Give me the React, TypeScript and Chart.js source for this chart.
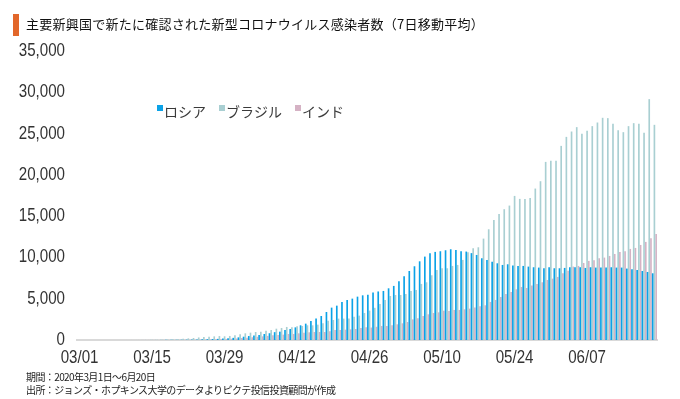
import React, { useEffect, useRef } from "react";
import { Chart, registerables } from "chart.js";

Chart.register(...registerables);

// Categories: every day from 03/01 to 06/20 (2020)
const MONTH_DAYS: [number, number][] = [[3, 31], [4, 30], [5, 31], [6, 20]];
const CATEGORIES: string[] = MONTH_DAYS.flatMap(([m, n]) =>
  Array.from({ length: n }, (_, i) => `${String(m).padStart(2, "0")}/${String(i + 1).padStart(2, "0")}`)
);

const TICK_LABELS = ["03/01", "03/15", "03/29", "04/12", "04/26", "05/10", "05/24", "06/07"];
const Y_TICKS = [0, 5000, 10000, 15000, 20000, 25000, 30000, 35000];

const SERIES_NAMES = ["ロシア", "ブラジル", "インド"];

const RUSSIA = [
  0, 0, 0, 0, 0, 0, 0, 0, 0, 0, 1,
  2, 3, 5, 7, 9, 12, 17, 22, 28, 36, 45, 55, 65, 80, 100, 120, 140, 170, 210, 260, 320, 400, 480, 560, 620, 730, 820,
  950, 1010, 1210, 1330, 1530, 1780, 1980, 2300, 2590, 2910, 3390, 3920, 4160, 4600, 4850, 5010, 5250, 5410, 5490,
  5750, 5880, 5940, 6260, 6550, 7110, 7720, 8360, 8930, 9530, 10100, 10500, 10670, 10750, 10870, 10990, 10910,
  10750, 10710, 10520, 10300, 9900, 9700, 9490, 9290, 9090, 9170, 9010, 8970, 8970, 8890, 8810, 8770, 8690, 8810,
  8690, 8690, 8730, 8810, 8810, 8810, 8730, 8810, 8770, 8770, 8770, 8810, 8770, 8770, 8650, 8570, 8480, 8360, 8240, 8080,
];

const BRAZIL = [
  0, 0, 0, 0, 0, 0, 1, 2, 3, 4, 5, 7, 10, 15, 20, 30, 45, 70,
  110, 130, 160, 200, 240, 310, 360, 400, 440, 480, 450, 490, 570, 690, 810, 890, 970, 1010, 1130, 1210,
  1370, 1450, 1580, 1540, 1660, 1700, 1780, 1780, 1860, 2020, 2340, 2420, 2590, 2590, 2590, 2830, 2950, 3270,
  3560, 3900, 4360, 4850, 5330, 5450, 5450, 5580, 5940, 6060, 6790, 6990, 7840, 8480, 8690, 8690, 8970, 9090,
  9700, 10630, 11110, 11230, 12280, 13410, 14540, 15270, 15840, 16280, 17450, 17090, 17090, 17210, 18340, 19230,
  21570, 21700, 21700, 23510, 24600, 25250, 25780, 24970, 25330, 25900, 26340, 26910, 26870, 26180, 25410, 25170,
  25900, 26260, 26180, 25090, 29170, 26060,
];

const INDIA = [
  0, 0, 0, 0, 0, 0, 1, 2, 3, 4, 5, 6, 8, 9, 10, 12, 14, 16, 20, 25,
  30, 35, 40, 50, 65, 75, 90, 110, 130, 150, 180, 230, 280, 330, 390, 440, 500,
  570, 610, 650, 730, 730, 810, 890, 930, 970, 970, 970, 1050, 1210, 1210, 1250, 1290, 1330, 1450, 1530, 1510,
  1600, 1700, 1700, 1780, 1900, 2020, 2180, 2500, 2630, 2910, 3110, 3270, 3350, 3550, 3520, 3640, 3640, 3720,
  3800, 3940, 4100, 4200, 4610, 4850, 5210, 5580, 5820, 6140, 6420, 6300, 6590, 6790, 6990, 7270, 7430, 7640,
  8080, 8400, 8890, 8970, 9330, 9580, 9660, 9900, 9980, 10180, 10420, 10670, 10750, 11030, 11150, 11510, 11880,
  12320, 12850,
];

const COLORS = ["#0BA2E7", "#A9CFD2", "#D5B2C4"];

const NUM_FONT = "'Liberation Sans', Arial, sans-serif";
const JP_FONT = "'Noto Sans CJK JP', sans-serif";

// Condensed (horizontally scaled) axis labels, like the narrow face of the original
const tickPlugin = {
  id: "condensedTicks",
  afterDraw(chart: any) {
    const ctx = chart.ctx as CanvasRenderingContext2D;
    const sx = 0.84;
    ctx.save();
    ctx.font = `18px ${NUM_FONT}`;
    ctx.fillStyle = "#333333";
    ctx.textBaseline = "middle";
    const ys = chart.scales.y;
    Y_TICKS.forEach((v) => {
      const y = ys.getPixelForValue(v);
      ctx.save();
      ctx.translate(65, y);
      ctx.scale(sx, 1);
      ctx.textAlign = "right";
      ctx.fillText(v.toLocaleString("en-US"), 0, 0);
      ctx.restore();
    });
    const xs = chart.scales.x;
    TICK_LABELS.forEach((lbl) => {
      const x = xs.getPixelForValue(CATEGORIES.indexOf(lbl));
      ctx.save();
      ctx.translate(x, 358);
      ctx.scale(sx, 1);
      ctx.textAlign = "center";
      ctx.fillText(lbl, 0, 0);
      ctx.restore();
    });
    ctx.restore();
  },
};

const legendPlugin = {
  id: "inlineLegend",
  afterDraw(chart: any) {
    const ctx = chart.ctx as CanvasRenderingContext2D;
    ctx.save();
    ctx.font = `14px ${JP_FONT}`;
    ctx.textBaseline = "middle";
    let x = 157;
    const y = 112;
    chart.data.datasets.forEach((ds: any) => {
      ctx.fillStyle = ds.backgroundColor;
      ctx.fillRect(x, y - 7, 6, 6);
      x += 7;
      ctx.fillStyle = "#3a3a3a";
      ctx.fillText(ds.label, x, y);
      x += ctx.measureText(ds.label).width + 13;
    });
    ctx.restore();
  },
};

export default function App() {
  const ref = useRef<HTMLCanvasElement | null>(null);

  useEffect(() => {
    if (!ref.current) return;
    const data = [RUSSIA, BRAZIL, INDIA];
    const chart = new Chart(ref.current, {
      type: "bar",
      data: {
        labels: CATEGORIES,
        datasets: SERIES_NAMES.map((name, i) => ({
          label: name,
          data: data[i],
          backgroundColor: COLORS[i],
          borderWidth: 0,
          categoryPercentage: 1.0,
          barPercentage: 0.96,
        })),
      },
      options: {
        responsive: false,
        animation: false,
        devicePixelRatio: 1,
        layout: { padding: { top: 51, right: 23, bottom: 0, left: 0 } },
        plugins: {
          legend: { display: false },
          tooltip: { enabled: false },
          title: { display: false },
        },
        scales: {
          x: {
            grid: { display: false, drawTicks: false },
            border: { display: true, color: "#D9D9D9", width: 2 },
            ticks: { display: false },
            afterFit: (s: any) => {
              s.height = 59;
            },
          },
          y: {
            min: Y_TICKS[0],
            max: Y_TICKS[Y_TICKS.length - 1],
            grid: { display: false, drawTicks: false },
            border: { display: false },
            ticks: { display: false, stepSize: Y_TICKS[1] - Y_TICKS[0] },
            afterFit: (s: any) => {
              s.width = 77;
            },
          },
        },
      },
      plugins: [tickPlugin, legendPlugin],
    });
    return () => chart.destroy();
  }, []);

  return (
    <div style={{ position: "absolute", left: 0, top: 0, width: 680, height: 399, background: "#fff", overflow: "hidden" }}>
      <canvas ref={ref} width={680} height={399} style={{ display: "block", position: "absolute", left: 0, top: 0 }} />
      <div style={{ position: "absolute", left: 13, top: 14, width: 6, height: 22, background: "#E2672A" }} />
      <div
        style={{
          position: "absolute",
          left: 26,
          top: 15,
          fontFamily: JP_FONT,
          fontSize: 13,
          lineHeight: "18px",
          letterSpacing: "0.25px",
          color: "#111",
          whiteSpace: "nowrap",
        }}
      >
        主要新興国で新たに確認された新型コロナウイルス感染者数（7日移動平均）
      </div>
      <div
        style={{
          position: "absolute",
          left: 26,
          top: 370,
          fontFamily: JP_FONT,
          fontSize: 10,
          lineHeight: "13px",
          letterSpacing: "-0.6px",
          color: "#222",
          whiteSpace: "nowrap",
        }}
      >
        <div>期間：2020年3月1日～6月20日</div>
        <div>出所：ジョンズ・ホプキンス大学のデータよりピクテ投信投資顧問が作成</div>
      </div>
    </div>
  );
}
